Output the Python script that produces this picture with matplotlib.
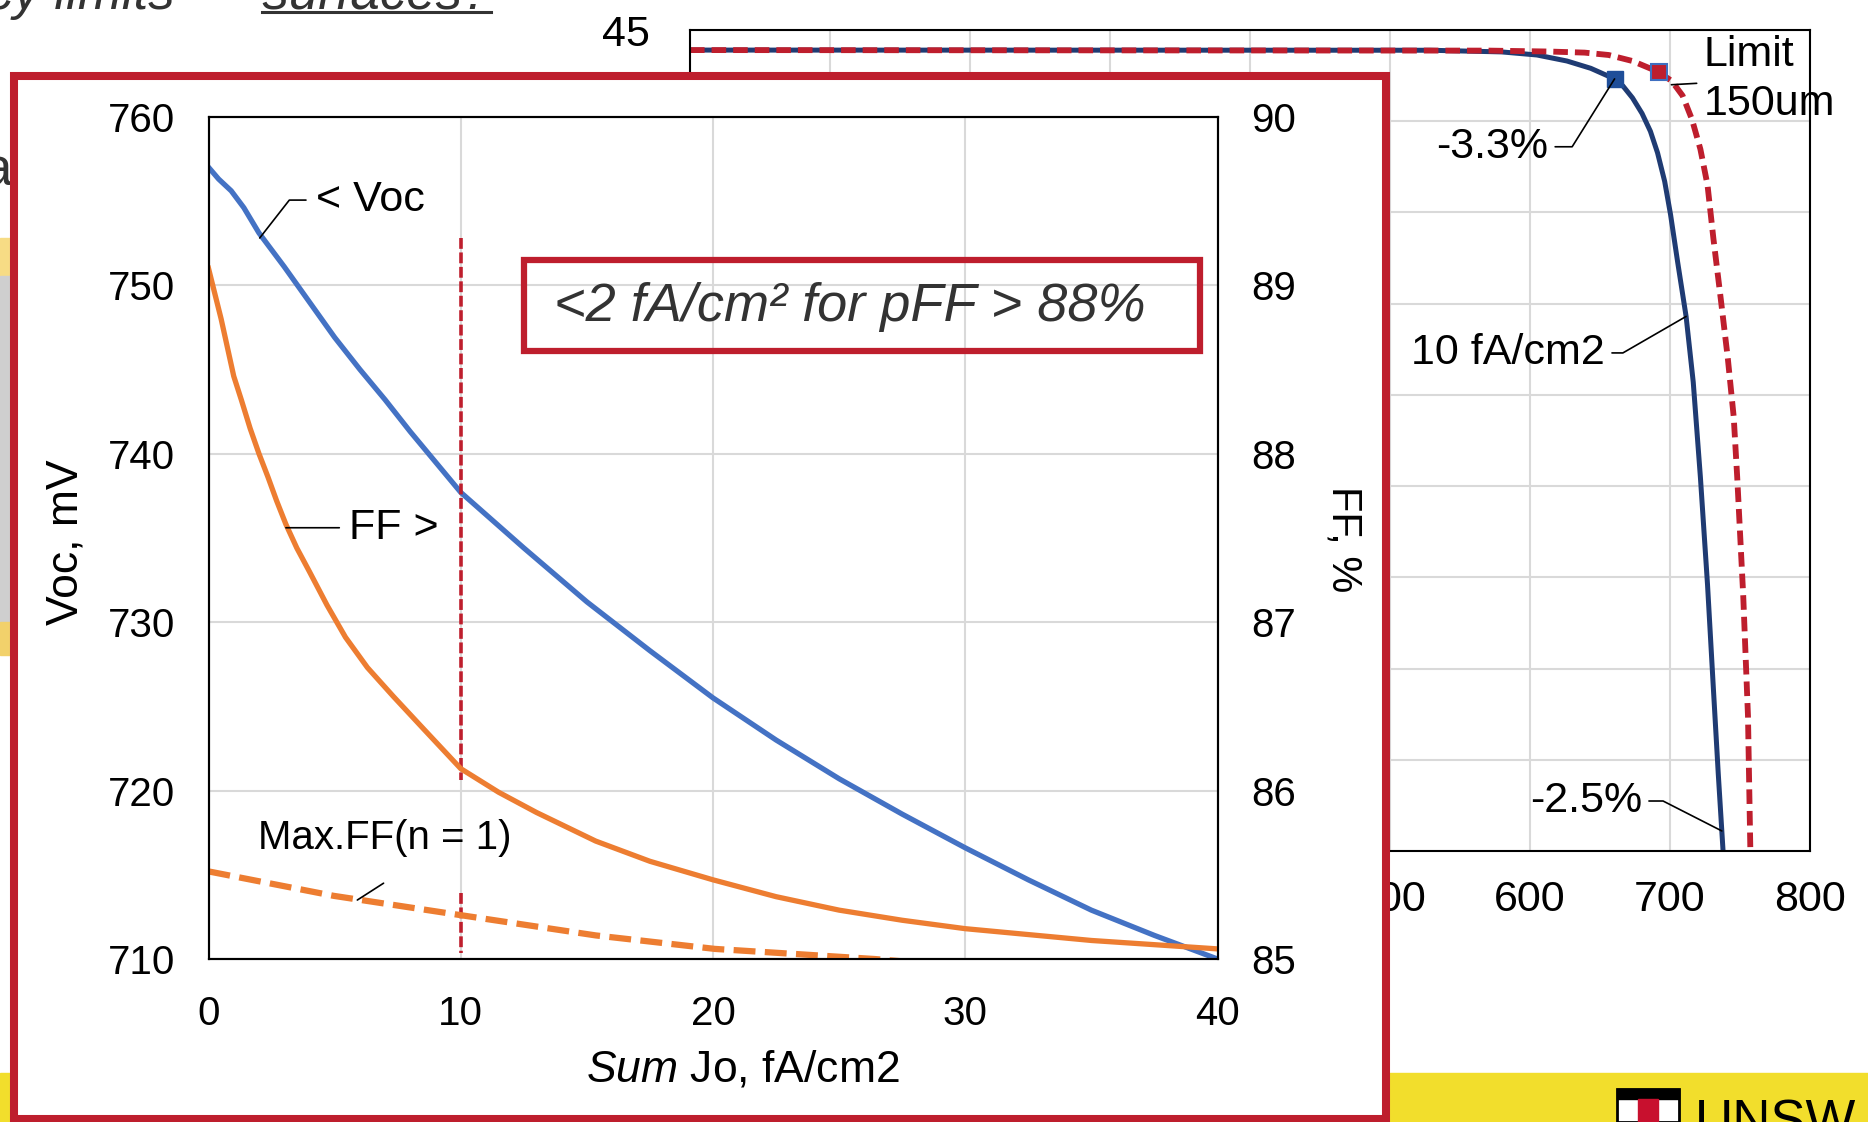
import matplotlib.pyplot as plt
from matplotlib.patches import Rectangle
from matplotlib.lines import Line2D

plt.rcParams['font.family'] = ['Liberation Sans', 'DejaVu Sans']
plt.rcParams['mathtext.fontset'] = 'custom'
plt.rcParams['mathtext.rm'] = 'Liberation Sans'
plt.rcParams['mathtext.it'] = 'Liberation Sans:italic'

# inset chart: Voc and FF against the summed Jo
jo_voc = [0, 0.4, 0.9, 1.4, 2, 3, 4, 5, 6, 7, 8, 9, 10, 12.5, 15, 17.5, 20, 22.5, 25,
          27.5, 30, 32.5, 35, 37.5, 40]
voc = [757.0, 756.3, 755.6, 754.6, 753.1, 751.1, 749.0, 746.9, 745.0, 743.2, 741.3, 739.5, 737.7,
       734.4, 731.2, 728.3, 725.5, 723.0, 720.7, 718.6, 716.6, 714.7, 712.9, 711.4, 710.0]

jo_ff = [0, 0.25, 0.5, 0.75, 1.0, 1.3, 1.65, 2.0, 2.36, 2.7, 3.07, 3.5, 4.0, 4.7, 5.43, 6.3,
         7.32, 8.5, 10, 11.5, 13, 15.35, 17.5, 20, 22.5, 25, 27.5, 30, 35, 40]
ff = [89.10, 88.95, 88.80, 88.63, 88.46, 88.32, 88.15, 88.00, 87.86, 87.72, 87.58, 87.44, 87.30,
      87.10, 86.91, 86.73, 86.56, 86.37, 86.13, 85.99, 85.87, 85.70, 85.58, 85.47, 85.37, 85.29,
      85.23, 85.18, 85.11, 85.06]

jo_maxff = [0, 4.96, 10.01, 15.35, 20.07, 26.4, 28]
maxff = [85.52, 85.375, 85.26, 85.14, 85.06, 85.0, 84.98]

jo_limit = 10
limit_upper = [752.8, 720.6]
limit_lower = [713.9, 710.35]

jo_ticks = [0, 10, 20, 30, 40]
voc_ticks = [710, 720, 730, 740, 750, 760]
ff_ticks = [85, 86, 87, 88, 89, 90]

# chart behind the inset
bg_x_10fa = [0, 528.5, 579.6, 605, 626.4, 643.4, 660.4, 666.4, 673.2, 680, 686, 691.1, 696.2,
             700.4, 705.5, 711.5, 716.6, 721.7, 726.8, 731.1, 734.5, 737.9]
bg_y_10fa = [43.9, 43.89, 43.8, 43.63, 43.3, 42.9, 42.32, 41.93, 41.28, 40.43, 39.45, 38.27, 36.7,
             34.88, 32.26, 29.3, 25.7, 20.5, 14.6, 8.75, 4.2, 0]
bg_x_limit = [0, 571, 613.6, 639, 656.2, 673.2, 691.9, 701.3, 709, 715.7, 721.7, 726.8, 731,
              736.2, 741.3, 745.5, 748, 752.3, 755.7, 757.4]
bg_y_limit = [43.9, 43.87, 43.82, 43.76, 43.63, 43.3, 42.7, 42.2, 41.4, 40.1, 38.47, 36.5, 33.57,
              30.3, 27.0, 23.8, 20.5, 14.0, 7.4, 0]
bg_mark_10fa = (660.4, 42.32)
bg_mark_limit = (691.9, 42.7)
bg_xticks = list(range(0, 801, 100))
bg_yticks = list(range(0, 46, 5))

RED = '#BE1E2D'
W, H = 1868.0, 1122.0


def box(x0, y0, x1, y1):
    # pixel box (top-left origin) -> figure rect
    return [x0 / W, 1 - y1 / H, (x1 - x0) / W, (y1 - y0) / H]


fig = plt.figure(figsize=(18.68, 11.22), dpi=100)

# slide bits around the charts
fig.add_artist(Rectangle((0, 0), 1, (H - 1073) / H, transform=fig.transFigure,
                         color='#F2DE2C', zorder=0.5))
fig.add_artist(Rectangle((0, 1 - 276 / H), 14 / W, 38 / H, transform=fig.transFigure,
                         color='#F7DC85', zorder=0.5))
fig.add_artist(Rectangle((0, 1 - 622 / H), 14 / W, 346 / H, transform=fig.transFigure,
                         color='#CFCFCF', zorder=0.5))
fig.add_artist(Rectangle((0, 1 - 655 / H), 14 / W, 33 / H, transform=fig.transFigure,
                         color='#F2D16B', zorder=0.5))
fig.text(12 / W, 1 - 186 / H, 'a', ha='right', va='baseline', fontsize=38, color='#333333', zorder=0.5)
fig.text(491 / W, 1 - 9 / H, 'Efficiency limits  \u2013  surfaces?', ha='right', va='baseline',
         fontsize=38, style='italic', color='#333333', zorder=0.5)
fig.add_artist(Line2D([262 / W, 491 / W], [1 - 12 / H, 1 - 12 / H], transform=fig.transFigure,
                      color='#333333', lw=2.2, zorder=0.5))
fig.add_artist(Rectangle((1617 / W, 0), 62 / W, (H - 1089) / H, transform=fig.transFigure,
                         facecolor='white', edgecolor='black', lw=2, zorder=0.6))
fig.add_artist(Rectangle((1617 / W, 1 - 1099 / H), 62 / W, 10 / H, transform=fig.transFigure,
                         color='black', zorder=0.7))
fig.add_artist(Rectangle((1638 / W, 0), 20 / W, (H - 1099) / H, transform=fig.transFigure,
                         color='#C8102E', zorder=0.7))
fig.text(1695 / W, 1 - 1137 / H, 'UNSW', ha='left', va='baseline', fontsize=38, color='black', zorder=0.7)

# background chart
bg = fig.add_axes(box(690, 30, 1810, 851), zorder=0)
bg.plot(bg_x_10fa, bg_y_10fa, color='#1F3B73', lw=3.6)
bg.plot(bg_x_limit, bg_y_limit, color=RED, lw=4.2, ls=(0, (2.5, 1.2)))
bg.plot(*bg_mark_10fa, 's', ms=11, color='#1F4E99')
bg.plot(*bg_mark_limit, 's', ms=11, color=RED, mec='#3F6FC0', mew=1.5)
bg.set_xlim(0, 800)
bg.set_ylim(0, 45)
bg.set_xticks(bg_xticks)
bg.set_yticks(bg_yticks)
bg.grid(color='#D9D9D9', lw=1.5)
bg.set_axisbelow(True)
bg.tick_params(axis='x', length=0, labelsize=31, pad=21)
bg.tick_params(axis='y', length=0, labelsize=31, pad=29)
for s in bg.spines.values():
    s.set_linewidth(1.5)

leader = dict(arrowstyle='-', color='black', lw=1.2, shrinkA=3, shrinkB=0)
bg.annotate('Limit\n150um', xy=(701, 42.0), xytext=(724, 42.3), ha='left', va='center',
            fontsize=31, linespacing=1.28, arrowprops=leader)
bg.annotate('-3.3%', xy=bg_mark_10fa, xytext=(613, 38.6), ha='right', va='center', fontsize=31,
            arrowprops=dict(leader, connectionstyle='angle,angleA=0,angleB=58,rad=0'))
bg.annotate('10 fA/cm2', xy=(711.5, 29.3), xytext=(653.6, 27.3), ha='right', va='center', fontsize=31,
            arrowprops=dict(leader, connectionstyle='angle,angleA=0,angleB=30,rad=0'))
bg.annotate('-2.5%', xy=(737, 1.1), xytext=(680, 2.74), ha='right', va='center', fontsize=31,
            arrowprops=dict(leader, connectionstyle='angle,angleA=0,angleB=-27,rad=0'))

# red framed inset panel
fig.add_artist(Rectangle((14 / W, 1 - 1119 / H), (1386 - 14) / W, (1119 - 76) / H,
                         transform=fig.transFigure, facecolor='white', edgecolor=RED,
                         lw=5.8, zorder=1))

ax = fig.add_axes(box(208.5, 116.7, 1217.5, 959), zorder=2)
ax.patch.set_alpha(0)
ax.plot(jo_voc, voc, color='#4472C4', lw=3.8)
ax.plot([jo_limit] * 2, limit_upper, color=RED, lw=2.6, ls=(0, (3, 1)))
ax.plot([jo_limit] * 2, limit_lower, color=RED, lw=2.6, ls=(0, (3, 1)))
ax.set_xlim(0, 40)
ax.set_ylim(710, 760)
ax.set_xticks(jo_ticks)
ax.set_yticks(voc_ticks)
ax.grid(color='#D9D9D9', lw=1.5)
ax.set_axisbelow(True)
ax.tick_params(axis='x', length=0, labelsize=29, pad=26)
ax.tick_params(axis='y', length=0, labelsize=29, pad=24)

ax2 = ax.twinx()
ax2.set_zorder(3)
ax2.plot(jo_ff, ff, color='#ED7D31', lw=3.8)
ax2.plot(jo_maxff, maxff, color='#ED7D31', lw=4.5, ls=(0, (3.5, 1.5)))
ax2.set_ylim(85, 90)
ax2.set_yticks(ff_ticks)
ax2.tick_params(axis='y', length=0, labelsize=29, pad=24)
for a in (ax, ax2):
    for s in a.spines.values():
        s.set_linewidth(1.5)
        s.set_color('black')

ax.set_ylabel('Voc, mV', fontsize=32, va='center', ha='center')
ax.yaxis.set_label_coords(-0.1417, 0.495)
ax2.set_ylabel('FF, %', fontsize=30, rotation=270, va='center', ha='center')
ax2.yaxis.set_label_coords(1.125, 0.498)
ax.set_xlabel(r'$\mathit{Sum}$ Jo, fA/cm2', fontsize=32, va='center')
ax.xaxis.set_label_coords(0.53, -0.132)

ax.annotate('< Voc', xy=(2.03, 752.8), xytext=(4.25, 755.05), ha='left', va='center', fontsize=31,
            arrowprops=dict(leader, shrinkA=5, connectionstyle='angle,angleA=0,angleB=52,rad=0'))
ax2.annotate('FF >', xy=(3.07, 87.56), xytext=(5.57, 87.56), ha='left', va='center', fontsize=31,
             arrowprops=dict(leader, shrinkA=5))
ax.text(1.98, 717.2, 'Max.FF(n = 1)', ha='left', va='center', fontsize=29)
ax2.annotate('', xy=(5.9, 85.35), xytext=(6.94, 85.45),
             arrowprops=dict(arrowstyle='-', color='black', lw=1.2, shrinkA=0, shrinkB=0))

ax.add_patch(Rectangle((0.3127, 0.722), 0.6699, 0.108, transform=ax.transAxes, fill=False,
                       edgecolor=RED, lw=4.5, zorder=5))
ax.text(0.636, 0.774, '<2 fA/cm\u00b2 for pFF > 88%', transform=ax.transAxes, ha='center',
        va='center', fontsize=39, style='italic', color='#333333', zorder=6)

fig.savefig('out.png', dpi=100)
